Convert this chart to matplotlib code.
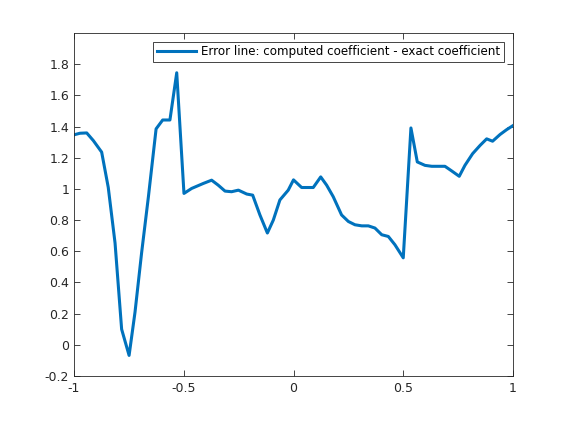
import matplotlib
matplotlib.use("Agg")
import matplotlib.pyplot as plt
from matplotlib.ticker import FuncFormatter

# --- данные
x_vals = [-1.0, -0.973, -0.942, -0.912, -0.874, -0.844, -0.813, -0.783, -0.749,
          -0.722, -0.692, -0.661, -0.626, -0.596, -0.563, -0.532, -0.499, -0.464,
          -0.411, -0.373, -0.343, -0.312, -0.282, -0.251, -0.213, -0.186, -0.153,
          -0.119, -0.092, -0.062, -0.024, 0.0, 0.037, 0.09, 0.124, 0.151, 0.181,
          0.219, 0.25, 0.28, 0.311, 0.341, 0.371, 0.402, 0.432, 0.462, 0.50,
          0.535, 0.564, 0.599, 0.63, 0.66, 0.69, 0.721, 0.755, 0.781, 0.816,
          0.85, 0.88, 0.907, 0.941, 0.971, 1.0]
err_vals = [1.347, 1.357, 1.359, 1.31, 1.236, 1.01, 0.653, 0.10, -0.068,
            0.21, 0.59, 0.95, 1.385, 1.442, 1.442, 1.745, 0.971, 1.003,
            1.035, 1.056, 1.024, 0.986, 0.982, 0.992, 0.967, 0.96, 0.833,
            0.717, 0.80, 0.929, 0.992, 1.058, 1.009, 1.009, 1.077, 1.024, 0.95,
            0.833, 0.791, 0.77, 0.763, 0.763, 0.749, 0.706, 0.695, 0.642, 0.558,
            1.391, 1.173, 1.151, 1.145, 1.145, 1.145, 1.115, 1.081, 1.151, 1.226,
            1.279, 1.321, 1.306, 1.349, 1.38, 1.406]
x_ticks = [-1, -0.5, 0, 0.5, 1]
y_ticks = [-0.2, 0, 0.2, 0.4, 0.6, 0.8, 1.0, 1.2, 1.4, 1.6, 1.8]
legend_label = "Error line: computed coefficient - exact coefficient"

axis_color = "#262626"

fig = plt.figure(figsize=(5.68, 4.24), dpi=100)
ax = fig.add_axes([74 / 568, 1 - 376 / 424, (513 - 74) / 568, (376 - 33) / 424])

ax.plot(x_vals, err_vals, color="#0072BD", lw=2.2, label=legend_label)

ax.set_xlim(-1, 1)
ax.set_ylim(-0.2, 2.0)
ax.set_xticks(x_ticks)
ax.set_yticks(y_ticks)
fmt = FuncFormatter(lambda v, p: "%g" % round(v, 4))
ax.xaxis.set_major_formatter(fmt)
ax.yaxis.set_major_formatter(fmt)

ax.tick_params(direction="in", top=True, right=True, length=4, width=0.6,
               colors=axis_color, labelsize=9)
ax.tick_params(axis="x", pad=4)
for s in ax.spines.values():
    s.set_color(axis_color)
    s.set_linewidth(0.6)

leg = ax.legend(loc="upper right", fontsize=8.6, fancybox=False, framealpha=1,
                borderpad=0.3, handlelength=3.3, handletextpad=0.4,
                borderaxespad=0.6, bbox_to_anchor=(0.995, 0.995))
leg.get_frame().set_edgecolor(axis_color)
leg.get_frame().set_linewidth(0.6)

fig.savefig("out.png", dpi=100)
